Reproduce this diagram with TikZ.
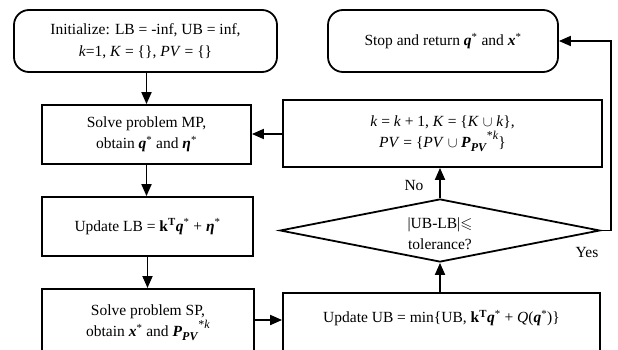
\documentclass[tikz,border=0pt]{standalone}
\usepackage{fontspec}
\usepackage{amssymb}
\setmainfont{Liberation Serif}
\usetikzlibrary{arrows.meta,shapes.geometric}
% bold italic symbol, a raised star and the P_PV^{*k} term
\newcommand\bsym[1]{\textbf{\textit{#1}}}
\newcommand\st{\textsuperscript{*}}
\newcommand\ppv{\bsym{P}\raisebox{-0.5ex}{\bsym{\fontsize{12}{12}\selectfont PV}}\raisebox{1.1ex}{\fontsize{12}{12}\selectfont *\textit{k}}}
\begin{document}
\begin{tikzpicture}[x=1pt,y=-1pt,
  line width=1.8pt,
  every node/.style={font=\fontsize{15.5}{21.5}\selectfont, align=center, inner sep=0pt},
  roundbox/.style={draw, rounded corners=15pt},
  stepbox/.style={draw},
  arr/.style={-{Triangle[length=12pt,width=10pt]}},
  lbl/.style={font=\fontsize{15.5}{17}\selectfont}]
\useasboundingbox (0,0) rectangle (618,350);
\clip (0,0) rectangle (618,350);

\node[roundbox, minimum width=263pt, minimum height=62pt] (init) at (145.5,41)
  {Initialize: LB = -inf, UB = inf,\\ \textit{k}=1, \textit{K} = \{\}, \textit{PV} = \{\}};
\node[roundbox, minimum width=230pt, minimum height=62pt] (stop) at (443,41)
  {Stop and return \bsym{q}\st{} and \bsym{x}\st};
\node[stepbox, minimum width=209pt, minimum height=59pt] (mp) at (146.5,134.5)
  {Solve problem MP,\\ obtain \bsym{q}\st{} and \bsym{η}\st};
\node[stepbox, minimum width=319pt, minimum height=67pt] (upk) at (442.5,133.5)
  {\textit{k} = \textit{k} + 1, \textit{K} = \{\textit{K} $\cup$ \textit{k}\},\\
   \textit{PV} = \{\textit{PV} $\cup$ \ppv\}};
\node[stepbox, minimum width=211pt, minimum height=59pt] (lb) at (147.5,226.5)
  {Update LB = \textbf{k}\textsuperscript{\textbf{T}}\bsym{q}\st{} + \bsym{η}\st};

% lower boxes run past the bottom edge
\node[stepbox, minimum width=212pt, minimum height=90pt, anchor=north] (sp) at (148,288) {};
\node (sptext) at (148,322.5) {Solve problem SP,\\ obtain \bsym{x}\st{} and \ppv};
\node[stepbox, minimum width=317pt, minimum height=90pt, anchor=north] (ub) at (441.5,292) {};
\node (ubtext) at (441.5,318) {Update UB = min\{UB, \textbf{k}\textsuperscript{\textbf{T}}\bsym{q}\st{} + \textit{Q}(\bsym{q}\st)\}};

\node[draw, diamond, minimum width=320pt, minimum height=63pt, aspect=5] (dec) at (440,230.5) {};
\node (dectext) at (440,233.5) {|UB-LB|$\leqslant$\\ tolerance?};

\coordinate (turn1) at (611,230.5);
\coordinate (turn2) at (611,41);

\draw[arr] (init.south -| mp.north) -- (mp.north);
\draw[arr] (mp.south) -- (mp.south |- lb.north);
\draw[arr] (lb.south) -- (lb.south |- sp.north);
\draw[arr] (sp.east |- 0,320) -- (ub.west |- 0,320);
\draw[arr] (ub.north -| dec.south) -- (dec.south);
\draw[arr] (dec.north) -- (dec.north |- upk.south);
\draw[arr] (upk.west |- 0,134) -- (mp.east |- 0,134);
\draw[arr] (dec.east) -- (turn1) -- (turn2) -- (stop.east);

\node[lbl] (no) at (414,185) {No};
\node[lbl] (yes) at (587,252) {Yes};
\end{tikzpicture}
\end{document}
